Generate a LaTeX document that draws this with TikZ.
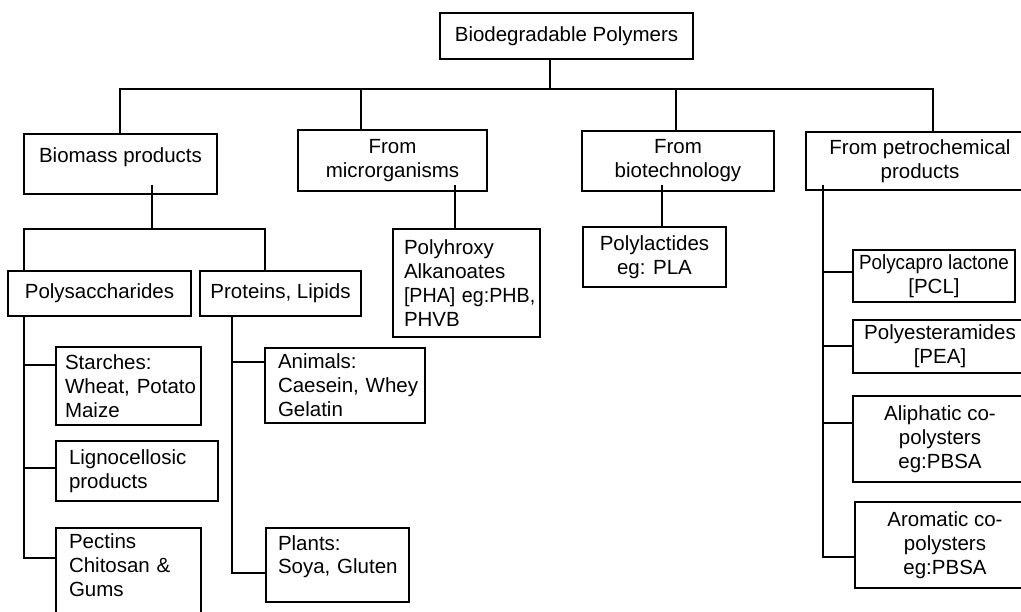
\documentclass[tikz,border=0pt]{standalone}
\usepackage{fontspec}
\usepackage{graphicx}
\setmainfont{Liberation Sans}
\begin{document}
\begin{tikzpicture}[x=1pt,y=-1pt,
  box/.style={draw, line width=1.2pt, inner sep=0pt, font=\fontsize{20.5}{24}\selectfont, align=center},
  lbox/.style={box, align=left},
  conn/.style={draw, line width=1.2pt}]
\useasboundingbox (0,0) rectangle (1021,612);
\clip (0,0) rectangle (1021,612);

% level 0 and 1
\node[box, minimum width=253, minimum height=46] (top) at (566.5,36) {Biodegradable Polymers};
\node[box, minimum width=193, text height=29, text depth=31] (bio) at (120.5,164) {Biomass products};
\node[box, minimum width=189, minimum height=61] (micro) at (392.5,160.5) {From\\microrganisms};
\node[box, minimum width=192, minimum height=60] (btech) at (678,161) {From\\biotechnology};
\node[box, minimum width=228, minimum height=58] (petro) at (920,161) {From petrochemical\\products};

% biomass children
\node[box, minimum width=183, minimum height=45] (poly) at (99.5,293.5) {Polysaccharides};
\node[box, minimum width=161, minimum height=45] (prot) at (280.5,293.5) {Proteins, Lipids};

% other children
\node[lbox, inner xsep=11, text width=125, minimum height=108] (pha) at (466.5,283) {Polyhroxy\\Alkanoates\\\scalebox{0.96}[1]{[PHA] eg:PHB,}\\PHVB};
\node[box, minimum width=143, minimum height=60] (pla) at (654.5,257) {Polylactides\\eg: PLA};

% polysaccharides leaves
\node[lbox, inner xsep=9, text width=127, minimum height=78] (starch) at (128.5,386) {Starches:\\Wheat,~Potato\\Maize};
\node[lbox, inner xsep=13, text width=136, minimum height=60] (ligno) at (137,471) {Lignocellosic\\products};
\node[lbox, inner xsep=13, text width=119, text height=20, text depth=92] (pectin) at (128.5,584) {Pectins\\Chitosan~\&\\Gums};

% proteins leaves
\node[lbox, inner xsep=13, text width=134, minimum height=75] (animal) at (345,385.5) {Animals:\\Caesein,~Whey\\Gelatin};
\node[lbox, inner xsep=12, text width=119, text height=22, text depth=52] (plant) at (337.5,565) {Plants:\\Soya,~Gluten};

% petrochemical leaves
\node[box, minimum width=162, minimum height=52] (pcl) at (934,276) {\scalebox{0.92}[1]{Polycapro lactone}\\{}[PCL]};
\node[box, minimum width=174, minimum height=53] (pea) at (940,346.5) {Polyesteramides\\{}[PEA]};
\node[box, minimum width=174, minimum height=86] (aliph) at (940,439) {Aliphatic co-\\polysters\\eg:PBSA};
\node[box, minimum width=180, minimum height=86] (arom) at (945,545) {Aromatic co-\\polysters\\eg:PBSA};

% junction coordinates
\coordinate (t0) at (550,89);
\coordinate (b1) at (120,89);
\coordinate (b2) at (361,89);
\coordinate (b3) at (676,89);
\coordinate (b4) at (933,89);
\coordinate (s0) at (152,185);
\coordinate (s1) at (24,229);
\coordinate (s2) at (152,229);
\coordinate (s3) at (265,229);
\coordinate (m0) at (455,185);
\coordinate (bt0) at (662,185);
\coordinate (p0) at (823,185);
\coordinate (p1) at (823,272);
\coordinate (p2) at (823,346);
\coordinate (p3) at (823,423);
\coordinate (p4) at (823,557);
\coordinate (q1) at (24,365);
\coordinate (q2) at (24,468);
\coordinate (q3) at (24,558);
\coordinate (r1) at (232,362);
\coordinate (r2) at (232,573);

% connectors
\path[conn] (top.south -| t0) -- (t0);
\path[conn] (b1 |- bio.north) -- (b1) -- (b4) -- (b4 |- petro.north);
\path[conn] (b2) -- (b2 |- micro.north);
\path[conn] (b3) -- (b3 |- btech.north);

\path[conn] (s0) -- (s2);
\path[conn] (s1 |- poly.north) -- (s1) -- (s3) -- (s3 |- prot.north);
\path[conn] (m0) -- (m0 |- pha.north);
\path[conn] (bt0) -- (bt0 |- pla.north);

\path[conn] (p0) -- (p4) -- (arom.west |- p4);
\path[conn] (p1) -- (pcl.west |- p1);
\path[conn] (p2) -- (pea.west |- p2);
\path[conn] (p3) -- (aliph.west |- p3);

\path[conn] (poly.south -| q1) -- (q3) -- (pectin.west |- q3);
\path[conn] (q1) -- (starch.west |- q1);
\path[conn] (q2) -- (ligno.west |- q2);

\path[conn] (prot.south -| r1) -- (r2) -- (plant.west |- r2);
\path[conn] (r1) -- (animal.west |- r1);
\end{tikzpicture}
\end{document}
